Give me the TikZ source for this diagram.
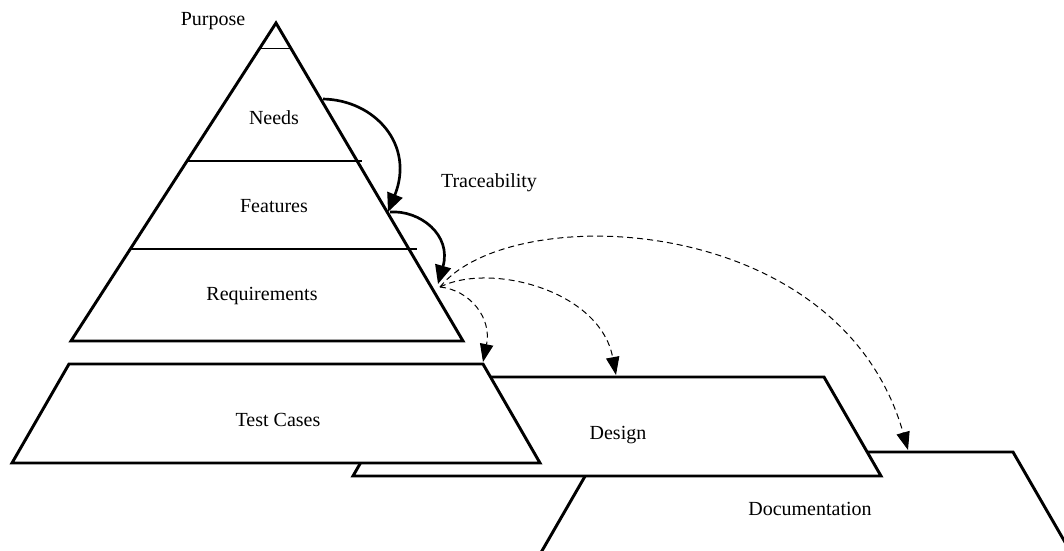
\documentclass[tikz,border=0pt]{standalone}
\usepackage{fontspec}
\setmainfont{Liberation Serif}
\usetikzlibrary{arrows.meta}

\begin{document}
\begin{tikzpicture}[x=0.75pt, y=-0.75pt,
        layer/.style = {draw = black, fill = white, line width = 2.2pt, line join = miter},
        band/.style  = {draw = black, line width = 2.2pt},
        tag/.style   = {text = black, font = \fontsize{15}{18}\selectfont, anchor = base, inner sep = 0pt},
        trace/.style = {-{Triangle[length = 14pt, width = 12pt]}, line width = 2pt},
        link/.style  = {-{Triangle[length = 13.5pt, width = 10pt]}, line width = 0.75pt,
                        dash pattern = on 4.5pt off 3pt}]

        \clip (0,0) rectangle (1064,550);

        % ---------------------------------------------------------------------------
        % Draw layers (back to front)
        % ---------------------------------------------------------------------------
        \draw[layer] (599,452) -- (1013,452) -- (1073,556) -- (539,556) -- cycle;     % Documentation
        \draw[layer] (410,377) -- (824,377) -- (881,476) -- (353,476) -- cycle;       % Design
        \draw[layer] (69,364)  -- (483,364) -- (540,463) -- (12,463)  -- cycle;       % Test cases

        % pyramid
        \coordinate (Apex)      at (276,23);
        \coordinate (BaseLeft)  at (71,341);
        \coordinate (BaseRight) at (463,341);
        \draw[layer] (Apex) -- (BaseRight) -- (BaseLeft) -- cycle;
        \draw[band]  (187,161) -- (362,161);
        \draw[band]  (131,249) -- (417,249);
        \draw[line width = 0.75pt] (260,48) -- (290,48);

        % ---------------------------------------------------------------------------
        % Draw labels
        % ---------------------------------------------------------------------------
        \node[tag] (Purpose)       at (213,25)  {Purpose};
        \node[tag] (Needs)         at (274,124) {Needs};
        \node[tag] (Features)      at (274,212) {Features};
        \node[tag] (Requirements)  at (262,300) {Requirements};
        \node[tag] (TestCases)     at (278,426) {Test Cases};
        \node[tag] (Design)        at (618,439) {Design};
        \node[tag] (Documentation) at (810,515) {Documentation};
        \node[tag] (Traceability)  at (489,187) {Traceability};

        % ---------------------------------------------------------------------------
        % Draw arrows
        % ---------------------------------------------------------------------------
        \coordinate (NeedsOut)    at (323,99);
        \coordinate (FeaturesIn)  at (388,212);
        \coordinate (FeaturesOut) at (390,212);
        \coordinate (ReqIn)       at (438,284);
        \coordinate (ReqOut)      at (440,287);
        \coordinate (TestIn)      at (483,362);
        \coordinate (DesignIn)    at (616,375);
        \coordinate (DocIn)       at (908,450);

        \draw[trace] (NeedsOut)    .. controls (375,100) and (415,145) .. (FeaturesIn);   % Needs
        \draw[trace] (FeaturesOut) .. controls (420,210) and (452,235) .. (ReqIn);        % Features
        \draw[link]  (ReqOut)      .. controls (470,290) and (492,318) .. (TestIn);       % Test cases
        \draw[link]  (ReqOut)      .. controls (490,262) and (600,290) .. (DesignIn);     % Design
        \draw[link]  (ReqOut)      .. controls (510,200) and (840,210) .. (DocIn);        % Documentation

\end{tikzpicture}
\end{document}
